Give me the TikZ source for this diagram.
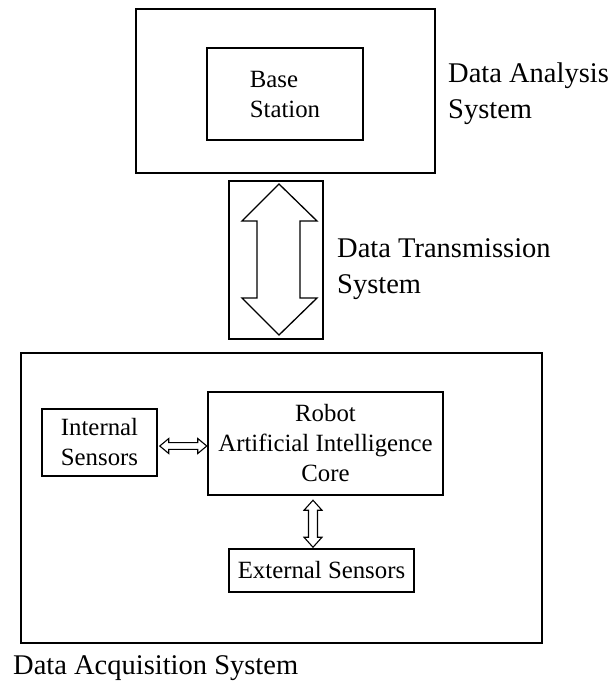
\documentclass[tikz,border=0pt]{standalone}
\usepackage{fontspec}
\setmainfont{Liberation Serif}
\usetikzlibrary{calc}
\begin{document}
\begin{tikzpicture}[x=1pt,y=-1pt,
  box/.style={draw, line width=1.5pt, inner sep=0pt, font=\fontsize{24.8}{30}\selectfont},
  lbl/.style={inner sep=0pt, anchor=base west, align=left, font=\fontsize{28.5}{36}\selectfont},
  hollow/.style={draw, line width=1.1pt, line join=miter}]
\useasboundingbox (0,0) rectangle (611,681);
% boxes
\node[box, minimum width=299pt, minimum height=164pt] (das) at (285.5,91) {};
\node[box, minimum width=156pt, minimum height=92pt, align=left] (bs) at (285,94) {Base\\Station};
\node[box, minimum width=94pt, minimum height=158pt] (dts) at (276,260) {};
\node[box, minimum width=521pt, minimum height=290pt] (daq) at (281.5,498) {};
\node[box, minimum width=115pt, minimum height=67pt, align=center] (is) at (99.5,442.5) {Internal\\Sensors};
\node[box, minimum width=235pt, minimum height=103pt, align=center] (core) at (325.5,443.5) {Robot\\Artificial Intelligence\\Core};
\node[box, minimum width=185pt, minimum height=43pt] (es) at (321.5,570.5) {External Sensors};
% labels (base anchor = baseline of last line)
\node[lbl] (ldas) at (448,118) {Data Analysis\\System};
\node[lbl] (ldts) at (337,293) {Data Transmission\\System};
\node[lbl] (ldaq) at (13,674) {Data Acquisition System};
% big hollow double arrow
\coordinate (bt) at (279,184);
\draw[hollow, line width=1.3pt, shift={(bt)}] (0,0) -- (38,37) -- (21,37) -- (21,114) -- (38,114) -- (0,151)
  -- (-37,114) -- (-22,114) -- (-22,37) -- (-37,37) -- cycle;
% horizontal small double arrow between internal sensors and core
\draw[hollow, shift={($(is.east)+(2,3.5)$)}] (0,0) -- (9,-7.5) -- (9,-3.4) -- (38,-3.4) -- (38,-7.5) -- (47,0)
  -- (38,7.5) -- (38,3.4) -- (9,3.4) -- (9,7.5) -- cycle;
% vertical small double arrow between core and external sensors
\draw[hollow, shift={($(core.south)+(-12.5,4.5)$)}] (0,0) -- (9,10) -- (4.5,10) -- (4.5,37) -- (9,37) -- (0,47)
  -- (-9,37) -- (-4.5,37) -- (-4.5,10) -- (-9,10) -- cycle;
\end{tikzpicture}
\end{document}
